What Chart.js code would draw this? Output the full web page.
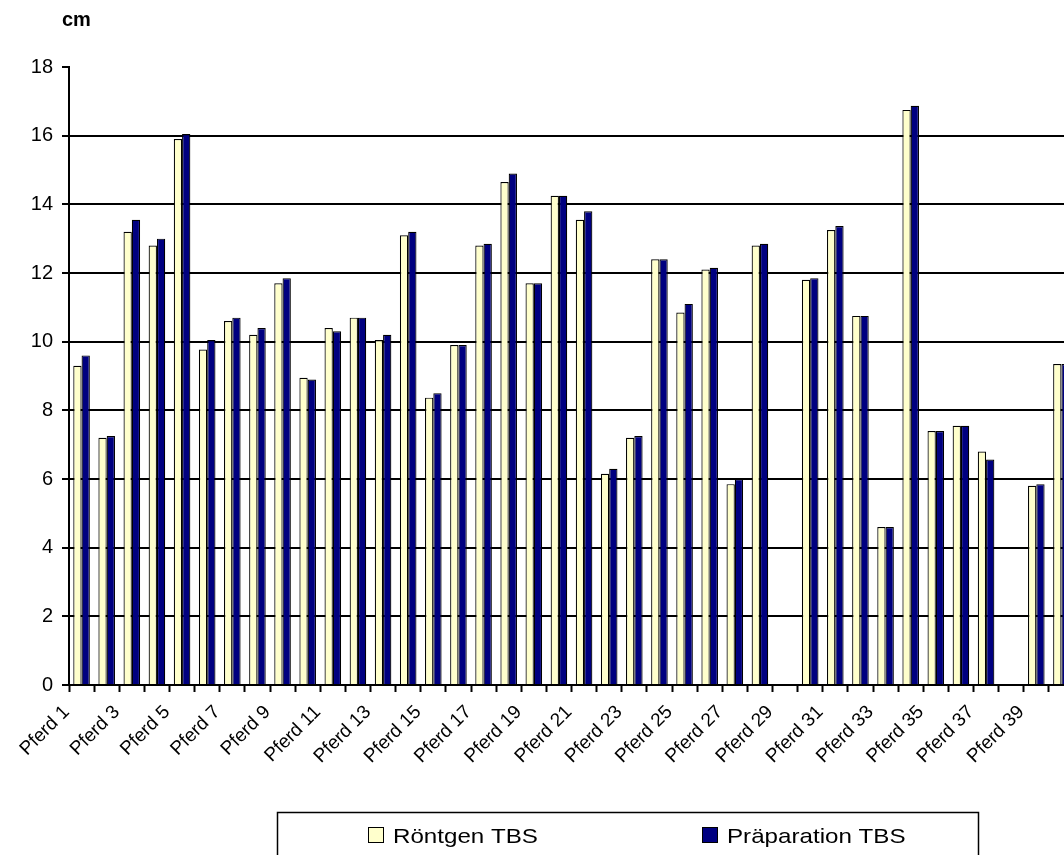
<!DOCTYPE html>
<html>
<head>
<meta charset="utf-8">
<script src="https://cdn.jsdelivr.net/npm/chart.js@4/dist/chart.umd.min.js"></script>
<style>
  html, body { margin: 0; padding: 0; background: #fff; overflow: hidden; }
  #wrap { width: 1090px; height: 855px; }
</style>
</head>
<body>
<div id="wrap"><canvas id="c" width="1090" height="855"></canvas></div>
<script>
// Horses measured: TBS length in cm, radiograph vs. dissection
const categories = [
  'Pferd 1', 'Pferd 2', 'Pferd 3', 'Pferd 4', 'Pferd 5', 'Pferd 6', 'Pferd 7', 'Pferd 8',
  'Pferd 9', 'Pferd 10', 'Pferd 11', 'Pferd 12', 'Pferd 13', 'Pferd 14', 'Pferd 15', 'Pferd 16',
  'Pferd 17', 'Pferd 18', 'Pferd 19', 'Pferd 20', 'Pferd 21', 'Pferd 22', 'Pferd 23', 'Pferd 24',
  'Pferd 25', 'Pferd 26', 'Pferd 27', 'Pferd 28', 'Pferd 29', 'Pferd 30', 'Pferd 31', 'Pferd 32',
  'Pferd 33', 'Pferd 34', 'Pferd 35', 'Pferd 36', 'Pferd 37', 'Pferd 38', 'Pferd 39', 'Pferd 40'
];

const roentgenTBS = [
  9.3, 7.2, 13.2, 12.8, 15.9, 9.77, 10.6, 10.2, 11.7, 8.95,
  10.4, 10.7, 10.05, 13.1, 8.37, 9.9, 12.8, 14.65, 11.7, 14.25,
  13.55, 6.15, 7.2, 12.4, 10.85, 12.1, 5.85, 12.8, null, 11.8,
  13.25, 10.75, 4.6, 16.75, 7.4, 7.55, 6.8, null, 5.8, 9.35
];

const praeparationTBS = [
  9.6, 7.25, 13.55, 13.0, 16.05, 10.05, 10.7, 10.4, 11.85, 8.9,
  10.3, 10.7, 10.2, 13.2, 8.5, 9.9, 12.85, 14.9, 11.7, 14.25,
  13.8, 6.3, 7.25, 12.4, 11.1, 12.15, 6.0, 12.85, null, 11.85,
  13.37, 10.75, 4.6, 16.87, 7.4, 7.55, 6.57, null, 5.85, 9.35
];

const seriesNames = ['Röntgen TBS', 'Präparation TBS'];
const unitLabel = 'cm';
const yMin = 0, yMax = 18, yStep = 2;

const FONT = 'Arial, "Liberation Sans", Helvetica, sans-serif';

// Unit caption above the value axis
const unitCaption = {
  id: 'unitCaption',
  afterDraw(chart) {
    const ctx = chart.ctx;
    ctx.save();
    ctx.fillStyle = '#000';
    ctx.font = 'bold 20px ' + FONT;
    ctx.textAlign = 'left';
    ctx.textBaseline = 'alphabetic';
    ctx.fillText(unitLabel, 62, 26);
    ctx.restore();
  }
};

// Boxed legend under the plot
const boxedLegend = {
  id: 'boxedLegend',
  afterDraw(chart) {
    const ctx = chart.ctx;
    ctx.save();
    ctx.strokeStyle = '#000';
    ctx.lineWidth = 1.5;
    ctx.strokeRect(277.5, 812.5, 701, 80);
    const items = [
      { x: 368, tx: 393 },
      { x: 702, tx: 727 }
    ];
    chart.data.datasets.forEach((ds, i) => {
      const it = items[i];
      ctx.fillStyle = ds.backgroundColor;
      ctx.fillRect(it.x, 827, 16, 16);
      ctx.strokeStyle = '#000';
      ctx.lineWidth = 1;
      ctx.strokeRect(it.x + 0.5, 827.5, 15, 15);
      ctx.save();
      ctx.translate(it.tx, 843);
      ctx.scale(1.15, 1);
      ctx.fillStyle = '#000';
      ctx.font = '21px ' + FONT;
      ctx.textBaseline = 'alphabetic';
      ctx.fillText(ds.label, 0, 0);
      ctx.restore();
    });
    ctx.restore();
  }
};

new Chart(document.getElementById('c'), {
  type: 'bar',
  data: {
    labels: categories,
    datasets: [
      {
        label: seriesNames[0],
        data: roentgenTBS,
        backgroundColor: '#FFFFCC',
        borderColor: '#000',
        borderWidth: 1.2
      },
      {
        label: seriesNames[1],
        data: praeparationTBS,
        backgroundColor: '#000080',
        borderColor: '#000',
        borderWidth: 1.2
      }
    ]
  },
  options: {
    responsive: false,
    devicePixelRatio: 1,
    animation: false,
    layout: { padding: { left: 0, right: 16, top: 67, bottom: 0 } },
    datasets: { bar: { categoryPercentage: 0.66, barPercentage: 1.0 } },
    plugins: {
      legend: { display: false },
      tooltip: { enabled: false },
      title: { display: false }
    },
    scales: {
      x: {
        offset: true,
        grid: {
          offset: true,
          drawOnChartArea: false,
          drawTicks: true,
          tickLength: 7,
          tickColor: '#000',
          tickWidth: 2
        },
        border: { color: '#000', width: 2 },
        ticks: {
          autoSkip: false,
          maxRotation: 45,
          minRotation: 45,
          padding: 9,
          labelOffset: -15,
          color: '#000',
          font: { family: FONT, size: 19 },
          callback(value, index) {
            return index % 2 === 0 ? this.getLabelForValue(value) : '';
          }
        },
        afterFit(scale) { scale.height = 170; }
      },
      y: {
        min: yMin,
        max: yMax,
        grid: {
          color: (c) => (c.tick && c.tick.value === yMax) ? 'rgba(0,0,0,0)' : '#000',
          lineWidth: 2,
          tickLength: 7,
          tickColor: '#000',
          tickWidth: 2
        },
        border: { color: '#000', width: 2 },
        ticks: {
          stepSize: yStep,
          padding: 9,
          color: '#000',
          font: { family: FONT, size: 20 }
        },
        afterFit(scale) { scale.width = 69; }
      }
    }
  },
  plugins: [unitCaption, boxedLegend]
});
</script>
</body>
</html>
